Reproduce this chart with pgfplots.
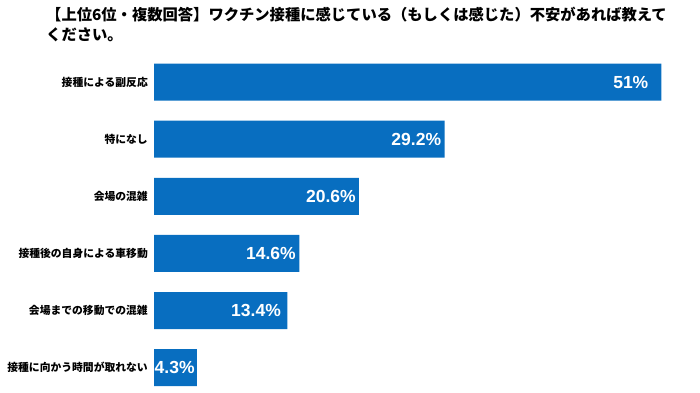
\documentclass[border=0pt]{standalone}
\usepackage{fontspec}
\usepackage{pgfplots}
\usepackage{pgfplotstable}
\pgfplotsset{compat=1.18}
\newfontfamily\cjk{Noto Sans CJK JP}
\newfontfamily\valfont{Liberation Sans}
\definecolor{barblue}{RGB}{8,110,192}
\pgfplotstableread{
y val shift
5 51 -13
4 29.2 -3.3
3 20.6 -3
2 14.6 -3.3
1 13.4 -6.3
0 4.3 -2
}\datatable
\begin{document}
\begin{tikzpicture}[x=1pt,y=1pt]
\path[use as bounding box] (0,0) rectangle (700,392);
\node[anchor=base west, inner sep=0pt, font=\cjk\bfseries\fontsize{15.3}{18}\selectfont] at (46,371) {【上位6位・複数回答】ワクチン接種に感じている（もしくは感じた）不安があれば教えて};
\node[anchor=base west, inner sep=0pt, font=\cjk\bfseries\fontsize{15.3}{18}\selectfont] at (46,352) {ください。};
\begin{axis}[
  at={(154pt,0pt)}, anchor=south west,
  scale only axis, width=546pt, height=338.57pt,
  xmin=0, xmax=54.87, ymin=-0.425, ymax=5.5,
  xbar, bar width=37pt, bar shift=0pt,
  clip=false,
  hide x axis,
  axis y line*=left,
  y axis line style={draw=none},
  major tick length=0pt,
  ytick={0,1,2,3,4,5},
  yticklabels={接種に向かう時間が取れない,会場までの移動での混雑,接種後の自身による車移動,会場の混雑,特になし,接種による副反応},
  yticklabel style={font=\cjk\bfseries\fontsize{10.8}{12}\selectfont, inner sep=0pt, xshift=-6pt},
  nodes near coords={\pgfmathprintnumber{\pgfplotspointmeta}\%},
  point meta=x,
  visualization depends on={\thisrow{shift} \as \myshift},
  every node near coord/.append style={anchor=east, inner sep=0pt, text=white, font=\valfont\bfseries\fontsize{17.5}{20}\selectfont, /pgf/number format/assume math mode=true, xshift=\myshift pt},
]
\addplot[fill=barblue, draw=none] table[x=val, y=y] {\datatable};
\end{axis}
\end{tikzpicture}
\end{document}
